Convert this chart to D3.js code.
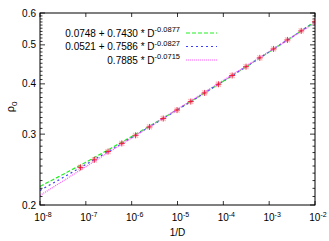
<!DOCTYPE html>
<html>
<head>
<meta charset="utf-8">
<script src="https://cdn.jsdelivr.net/npm/d3@7"></script>
<style>
  body { margin: 0; background: #fff; }
  svg text { font-family: "Liberation Sans", Arial, sans-serif; fill: #000; }
</style>
</head>
<body>
<svg id="chart" width="329" height="241"></svg>
<script>
// measured points: 1/D and rho_0
const invD = [7.63e-8, 1.53e-7, 3.05e-7, 6.10e-7, 1.22e-6, 2.44e-6, 4.88e-6, 9.77e-6,
  1.95e-5, 3.91e-5, 7.81e-5, 1.56e-4, 3.13e-4, 6.25e-4, 1.25e-3, 2.5e-3, 5e-3, 1e-2];
const rho = [0.248, 0.259, 0.2715, 0.2845, 0.298, 0.3126, 0.328, 0.3443,
  0.3615, 0.3798, 0.3991, 0.4196, 0.4413, 0.4642, 0.4885, 0.5143, 0.5416, 0.5705];

// fit curves a + b * D^-p  (from the legend)
const fitA = [0.0748, 0.0521, 0];
const fitB = [0.7430, 0.7586, 0.7885];
const fitP = [0.0877, 0.0827, 0.0715];
const fitLabel = [["0.0748 + 0.7430 * D", "-0.0877"], ["0.0521 + 0.7586 * D", "-0.0827"], ["0.7885 * D", "-0.0715"]];
const fitColor = ["#22ee22", "#3c3cff", "#ff55ff"];
const fitDash = ["4,2", "2,3", "1,1"];

const xTicks = [1e-8, 1e-7, 1e-6, 1e-5, 1e-4, 1e-3, 1e-2];
const yTicks = [0.2, 0.3, 0.4, 0.5, 0.6];

const svg = d3.select("#chart"),
  margin = {top: 13, right: 14, bottom: 36, left: 40},
  width = 329 - margin.left - margin.right,
  height = 241 - margin.top - margin.bottom;

const x = d3.scaleLog().domain([1e-8, 1e-2]).range([0, width]);
const y = d3.scaleLog().domain([0.2, 0.6]).range([height, 0]);

const g = svg.append("g").attr("transform", "translate(" + margin.left + "," + margin.top + ")");

// minor y ticks every 0.01
const yMinor = d3.range(21, 60).map(d => d / 100).filter(d => !yTicks.some(t => Math.abs(t - d) < 1e-9));
[0, width].forEach((x0, side) => {
  const dir = side ? -1 : 1;
  g.selectAll(null).data(yMinor).enter().append("line")
    .attr("x1", x0).attr("x2", x0 + dir * 2.5)
    .attr("y1", d => y(d)).attr("y2", d => y(d))
    .attr("stroke", "#000").attr("stroke-width", 0.8);
  g.selectAll(null).data(yTicks).enter().append("line")
    .attr("x1", x0).attr("x2", x0 + dir * 5)
    .attr("y1", d => y(d)).attr("y2", d => y(d))
    .attr("stroke", "#000").attr("stroke-width", 0.8);
});
[0, height].forEach((y0, side) => {
  const dir = side ? -1 : 1;
  g.selectAll(null).data(xTicks).enter().append("line")
    .attr("y1", y0).attr("y2", y0 + dir * 4)
    .attr("x1", d => x(d)).attr("x2", d => x(d))
    .attr("stroke", "#000").attr("stroke-width", 0.8);
});

// tick labels
g.selectAll(null).data(yTicks).enter().append("text")
  .attr("x", -4).attr("y", d => y(d) + 3.5)
  .attr("text-anchor", "end").attr("font-size", 10)
  .text(d => d.toFixed(1));

const xl = g.selectAll(null).data(xTicks).enter().append("text")
  .attr("x", d => x(d) + 3).attr("y", height + 16)
  .attr("text-anchor", "middle").attr("font-size", 10);
xl.append("tspan").text("10");
xl.append("tspan").attr("dy", -4).attr("font-size", 7).text(d => Math.round(Math.log10(d)));

// axis titles
svg.append("text").attr("x", margin.left + width / 2).attr("y", 236)
  .attr("text-anchor", "middle").attr("font-size", 10).text("1/D");
const yl = svg.append("text").attr("transform", "translate(14,107) rotate(-90)")
  .attr("text-anchor", "middle").attr("font-size", 11);
yl.append("tspan").text("ρ");
yl.append("tspan").attr("dy", 3).attr("font-size", 8).text("0");

// fit curves
const gridX = d3.range(0, 121).map(i => Math.pow(10, -8 + i * 6 / 120));
svg.append("clipPath").attr("id", "plotclip").append("rect")
  .attr("width", width).attr("height", height);
const plot = g.append("g").attr("clip-path", "url(#plotclip)");
fitA.forEach((a, i) => {
  const line = d3.line().x(d => x(d)).y(d => y(a + fitB[i] * Math.pow(d, fitP[i])));
  plot.append("path").datum(gridX).attr("d", line)
    .attr("fill", "none").attr("stroke", fitColor[i]).attr("stroke-width", 1.2)
    .attr("stroke-dasharray", fitDash[i]);
});

// data points: red + with pale pink x
const pts = invD.map((d, i) => [x(d), y(rho[i])]);
plot.selectAll(null).data(pts).enter().append("path")
  .attr("d", d => `M${d[0]-2.5},${d[1]-2.5}L${d[0]+2.5},${d[1]+2.5}M${d[0]-2.5},${d[1]+2.5}L${d[0]+2.5},${d[1]-2.5}`)
  .attr("stroke", "#ff8888").attr("stroke-width", 1.2).attr("opacity", 0.6);
plot.selectAll(null).data(pts).enter().append("path")
  .attr("d", d => `M${d[0]-3},${d[1]}L${d[0]+3},${d[1]}M${d[0]},${d[1]-3}L${d[0]},${d[1]+3}`)
  .attr("stroke", "#ee1133").attr("stroke-width", 0.9);

// legend
fitLabel.forEach((lab, i) => {
  const ly = 33 + i * 13.5;
  const t = svg.append("text").attr("x", 180).attr("y", ly + 3.5)
    .attr("text-anchor", "end").attr("font-size", 10);
  t.append("tspan").text(lab[0]);
  t.append("tspan").attr("dy", -4.5).attr("font-size", 7.5).text(lab[1]);
  svg.append("line").attr("x1", 186).attr("x2", 217).attr("y1", ly).attr("y2", ly)
    .attr("stroke", fitColor[i]).attr("stroke-width", 1.2).attr("stroke-dasharray", fitDash[i]);
});

// frame
g.append("rect").attr("width", width).attr("height", height)
  .attr("fill", "none").attr("stroke", "#000").attr("stroke-width", 1);
</script>
</body>
</html>
